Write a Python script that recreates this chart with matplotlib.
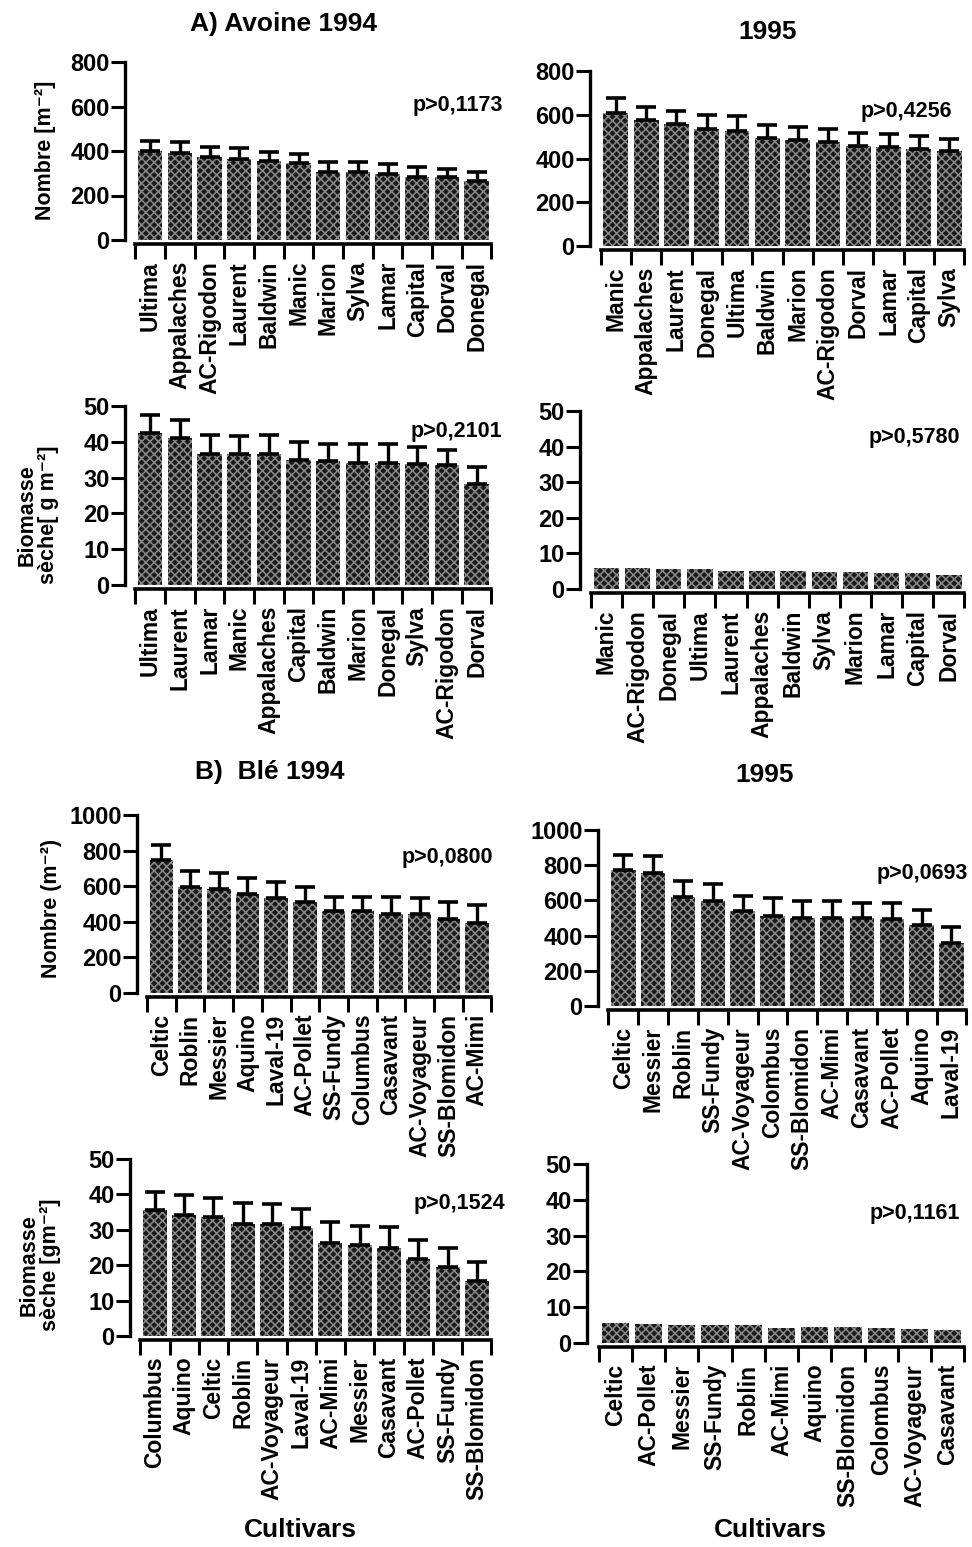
import matplotlib
matplotlib.use("Agg")
import matplotlib.pyplot as plt
import numpy as np

plt.rcParams['font.family'] = ['Liberation Sans', 'DejaVu Sans']
plt.rcParams['font.weight'] = 'bold'
plt.rcParams['hatch.linewidth'] = 1.1

# ---- data ----
# A) Avoine 1994 - nombre
a94_n_cult = ['Ultima', 'Appalaches', 'AC-Rigodon', 'Laurent', 'Baldwin', 'Manic',
              'Marion', 'Sylva', 'Lamar', 'Capital', 'Dorval', 'Donegal']
a94_n_val = [400, 392, 374, 362, 355, 344, 306, 306, 296, 284, 281, 265]
a94_n_err = [47, 47, 43, 50, 40, 42, 46, 43, 44, 42, 36, 40]

# Avoine 1995 - nombre
a95_n_cult = ['Manic', 'Appalaches', 'Laurent', 'Donegal', 'Ultima', 'Baldwin',
              'Marion', 'AC-Rigodon', 'Dorval', 'Lamar', 'Capital', 'Sylva']
a95_n_val = [610, 575, 560, 535, 525, 495, 485, 475, 455, 453, 445, 435]
a95_n_err = [65, 60, 57, 65, 70, 60, 60, 60, 62, 60, 58, 55]

# Avoine 1994 - biomasse
a94_b_cult = ['Ultima', 'Laurent', 'Lamar', 'Manic', 'Appalaches', 'Capital',
              'Baldwin', 'Marion', 'Donegal', 'Sylva', 'AC-Rigodon', 'Dorval']
a94_b_val = [42.5, 41.0, 36.7, 36.7, 36.5, 34.9, 34.6, 34.0, 34.0, 33.7, 33.5, 28.3]
a94_b_err = [5.0, 5.0, 5.3, 4.9, 5.5, 5.1, 4.9, 5.4, 5.4, 4.9, 4.2, 4.7]

# Avoine 1995 - biomasse
a95_b_cult = ['Manic', 'AC-Rigodon', 'Donegal', 'Ultima', 'Laurent', 'Appalaches',
              'Baldwin', 'Sylva', 'Marion', 'Lamar', 'Capital', 'Dorval']
a95_b_val = [6.0, 5.8, 5.5, 5.5, 5.0, 5.0, 5.0, 4.8, 4.8, 4.5, 4.5, 4.0]

# B) Blé 1994 - nombre
b94_n_cult = ['Celtic', 'Roblin', 'Messier', 'Aquino', 'Laval-19', 'AC-Pollet',
              'SS-Fundy', 'Columbus', 'Casavant', 'AC-Voyageur', 'SS-Blomidon', 'AC-Mimi']
b94_n_val = [748, 598, 585, 557, 533, 514, 458, 458, 443, 443, 415, 395]
b94_n_err = [84, 88, 88, 88, 89, 79, 84, 84, 99, 90, 95, 98]

# Blé 1995 - nombre
b95_n_cult = ['Celtic', 'Messier', 'Roblin', 'SS-Fundy', 'AC-Voyageur', 'Colombus',
              'SS-Blomidon', 'AC-Mimi', 'Casavant', 'AC-Pollet', 'Aquino', 'Laval-19']
b95_n_val = [773, 758, 617, 598, 542, 513, 498, 498, 498, 492, 460, 356]
b95_n_err = [85, 96, 95, 93, 83, 99, 99, 99, 89, 95, 85, 95]

# Blé 1994 - biomasse
b94_b_cult = ['Columbus', 'Aquino', 'Celtic', 'Roblin', 'AC-Voyageur', 'Laval-19',
              'AC-Mimi', 'Messier', 'Casavant', 'AC-Pollet', 'SS-Fundy', 'SS-Blomidon']
b94_b_val = [35.5, 34.3, 33.6, 31.6, 31.6, 30.5, 26.2, 25.6, 24.8, 21.8, 19.6, 15.5]
b94_b_err = [5.2, 5.6, 5.3, 5.9, 5.7, 5.3, 6.0, 5.6, 5.9, 5.4, 5.4, 5.5]

# Blé 1995 - biomasse
b95_b_cult = ['Celtic', 'AC-Pollet', 'Messier', 'SS-Fundy', 'Roblin', 'AC-Mimi',
              'Aquino', 'SS-Blomidon', 'Colombus', 'AC-Voyageur', 'Casavant']
b95_b_val = [5.6, 5.4, 5.1, 4.9, 4.9, 4.2, 4.5, 4.5, 4.2, 4.0, 3.7]

W, H = 972, 1547
fig = plt.figure(figsize=(W / 100, H / 100), dpi=100)


def rect(x0, x1, top, bot):
    # pixel box -> figure fraction
    return [x0 / W, 1 - bot / H, (x1 - x0) / W, (bot - top) / H]


def panel(box, cult, vals, errs, ymax, ystep, ptext, pxy):
    ax = fig.add_axes(rect(*box))
    ax.patch.set_visible(False)  # so long labels of the row above stay visible
    n = len(cult)
    x = np.arange(n)
    ax.bar(x, vals, width=0.82, facecolor='#1a1a1a', edgecolor='#8a8a8a',
           hatch='xxxx', linewidth=0, zorder=2)
    if errs is not None:
        ax.errorbar(x, vals, yerr=[np.zeros(n), errs], fmt='none', ecolor='black',
                    elinewidth=2.4, capsize=7, capthick=2.6, zorder=3)
    ax.set_xlim(-0.85, n - 0.48)
    ax.set_ylim(0, ymax)
    ax.set_yticks(np.arange(0, ymax + 1, ystep))
    ax.tick_params(axis='y', direction='out', length=10, width=2.2, labelsize=17, pad=1)
    # bracket style category axis
    ax.set_xticks(x)
    ax.set_xticks(np.arange(-0.5, n, 1.0), minor=True)
    ax.set_xticklabels(cult)
    ax.tick_params(axis='x', which='major', length=0, pad=12,
                   labelrotation=90, labelsize=16.5)
    ax.tick_params(axis='x', which='minor', direction='out', length=11, width=2.2)
    for s in ['top', 'right']:
        ax.spines[s].set_visible(False)
    ax.spines['left'].set_linewidth(2.4)
    ax.spines['bottom'].set_linewidth(2.6)
    ax.spines['bottom'].set_position(('outward', 3))
    ax.spines['bottom'].set_bounds(-0.5, n - 0.5)
    for lab in ax.get_yticklabels() + ax.get_xticklabels():
        lab.set_fontweight('bold')
    fig.text(pxy[0] / W, 1 - pxy[1] / H, ptext, fontsize=15.5, fontweight='bold',
             ha='right', va='center')
    return ax


panel((125, 492, 62, 240), a94_n_cult, a94_n_val, a94_n_err, 800, 200, 'p>0,1173', (503, 105))
panel((590, 965, 71, 246), a95_n_cult, a95_n_val, a95_n_err, 800, 200, 'p>0,4256', (952, 112))
panel((125, 492, 406, 585), a94_b_cult, a94_b_val, a94_b_err, 50, 10, 'p>0,2101', (502, 432))
panel((580, 965, 411, 589), a95_b_cult, a95_b_val, None, 50, 10, 'p>0,5780', (960, 437))
panel((137, 492, 815, 993), b94_n_cult, b94_n_val, b94_n_err, 1000, 200, 'p>0,0800', (493, 857))
panel((598, 967, 830, 1006), b95_n_cult, b95_n_val, b95_n_err, 1000, 200, 'p>0,0693', (968, 873))
panel((130, 492, 1159, 1336), b94_b_cult, b94_b_val, b94_b_err, 50, 10, 'p>0,1524', (505, 1203))
panel((587, 965, 1164, 1343), b95_b_cult, b95_b_val, None, 50, 10, 'p>0,1161', (960, 1213))

# titles
fig.text(283 / W, 1 - 24 / H, 'A) Avoine 1994', fontsize=19, fontweight='bold', ha='center', va='center')
fig.text(768 / W, 1 - 32 / H, '1995', fontsize=19, fontweight='bold', ha='center', va='center')
fig.text(270 / W, 1 - 772 / H, 'B)  Blé 1994', fontsize=19, fontweight='bold', ha='center', va='center')
fig.text(765 / W, 1 - 775 / H, '1995', fontsize=19, fontweight='bold', ha='center', va='center')

# y labels
fig.text(46 / W, 1 - 150 / H, 'Nombre [m⁻²]', fontsize=15.5, fontweight='bold',
         rotation=90, ha='center', va='center')
fig.text(38 / W, 1 - 515 / H, 'Biomasse\nsèche[ g m⁻²]', fontsize=15.5, fontweight='bold',
         rotation=90, ha='center', va='center', linespacing=1.0)
fig.text(52 / W, 1 - 908 / H, 'Nombre (m⁻²)', fontsize=15.5, fontweight='bold',
         rotation=90, ha='center', va='center')
fig.text(40 / W, 1 - 1265 / H, 'Biomasse\nsèche [gm⁻²]', fontsize=15.5, fontweight='bold',
         rotation=90, ha='center', va='center', linespacing=1.0)

# x labels
fig.text(300 / W, 1 - 1530 / H, 'Cultivars', fontsize=19, fontweight='bold', ha='center', va='center')
fig.text(770 / W, 1 - 1530 / H, 'Cultivars', fontsize=19, fontweight='bold', ha='center', va='center')

fig.savefig('out.png', dpi=100)
